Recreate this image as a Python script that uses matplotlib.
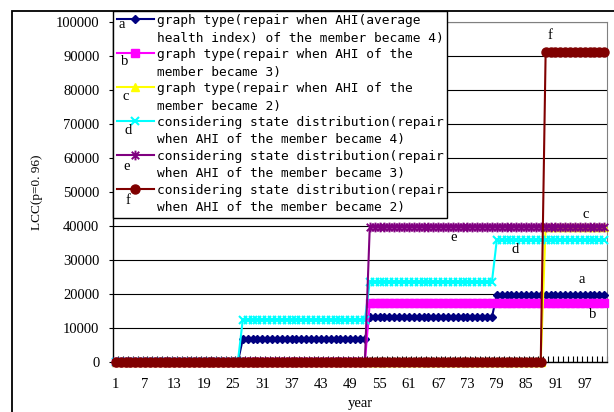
import numpy as np
import matplotlib
matplotlib.use("Agg")
import matplotlib.pyplot as plt
from matplotlib.lines import Line2D
from matplotlib.legend_handler import HandlerLine2D
from matplotlib.patches import Rectangle
from matplotlib.path import Path
from matplotlib.ticker import FixedLocator, StrMethodFormatter

W, H = 614, 412

# ── Data (step plateaus) ────────────────────────────────────────────────────
years = np.arange(1, 102)

a_levels, a_runs = [0, 6600, 13100, 19700], [26, 26, 26, 23]
b_levels, b_runs = [0, 17200], [52, 49]
c_levels, c_runs = [0, 39700], [88, 13]
d_levels, d_runs = [0, 12300, 23500, 35800], [26, 26, 26, 23]
e_levels, e_runs = [0, 39700], [52, 49]
f_levels, f_runs = [0, 91200], [88, 13]

labels = [
    "graph type(repair when AHI(average\nhealth index) of the member became 4)",
    "graph type(repair when AHI of the\nmember became 3)",
    "graph type(repair when AHI of the\nmember became 2)",
    "considering state distribution(repair\nwhen AHI of the member became 4)",
    "considering state distribution(repair\nwhen AHI of the member became 3)",
    "considering state distribution(repair\nwhen AHI of the member became 2)",
]
letters = ["a", "b", "c", "d", "e", "f"]
x_ticks = list(range(1, 101, 6))
y_ticks = list(range(0, 100001, 10000))

# ── Styles ───────────────────────────────────────────────────────────────────
star = Path([(-1, -1), (1, 1), (-1, 1), (1, -1), (0, -1.3), (0, 1.3)],
            [Path.MOVETO, Path.LINETO, Path.MOVETO, Path.LINETO, Path.MOVETO, Path.LINETO])
styles = [
    dict(color="#000080", marker="D", ms=4.0),
    dict(color="#FF00FF", marker="s", ms=6.0),
    dict(color="#FFFF00", marker="^", ms=6.0),
    dict(color="#00FFFF", marker="x", ms=6.0, mew=1.5),
    dict(color="#800080", marker=star, ms=7.0, mew=1.4),
    dict(color="#800000", marker="o", ms=6.5),
]
SERIF = "Liberation Serif"
MONO = "DejaVu Sans Mono"

fig = plt.figure(figsize=(W / 100, H / 100), dpi=100, facecolor="white")
ax = fig.add_axes([113.3 / W, 1 - 361.7 / H, (606.7 - 113.3) / W, (361.7 - 22.3) / H])

series = [(a_levels, a_runs), (b_levels, b_runs), (c_levels, c_runs),
          (d_levels, d_runs), (e_levels, e_runs), (f_levels, f_runs)]
handles = []
for (lev, run), st, lab in zip(series, styles, labels):
    vals = np.repeat(lev, run)
    (ln,) = ax.plot(years, vals, lw=1.5, label=lab, clip_on=False, zorder=3, **st)
    handles.append(ln)

ax.set_xlim(0.5, 101.5)
ax.set_ylim(0, 100000)
ax.yaxis.set_major_locator(FixedLocator(y_ticks))
ax.yaxis.set_major_formatter(StrMethodFormatter("{x:.0f}"))
ax.xaxis.set_major_locator(FixedLocator(x_ticks))
ax.xaxis.set_minor_locator(FixedLocator(np.arange(0.5, 102, 1)))
ax.grid(axis="y", color="black", lw=0.8, zorder=1)
ax.set_axisbelow(True)

ax.tick_params(axis="x", which="major", length=0, pad=12, labelsize=10.5)
ax.tick_params(axis="x", which="minor", direction="in", length=4.5, width=0.8, color="black")
ax.tick_params(axis="y", length=3, width=0.8, pad=7, labelsize=10.5)
for t in ax.get_xticklabels() + ax.get_yticklabels():
    t.set_fontfamily(SERIF)

for s in ["top", "right"]:
    ax.spines[s].set_color("#808080")
for s in ["left", "bottom"]:
    ax.spines[s].set_color("black")
    ax.spines[s].set_linewidth(1.0)

ax.set_xlabel("year", fontfamily=SERIF, fontsize=10.5, labelpad=4)
ax.set_ylabel("LCC(p=0. 96)", fontfamily=SERIF, fontsize=9.5, labelpad=9)


# legend handle sits on the first line of each two-line label
class TopLine(HandlerLine2D):
    def create_artists(self, legend, orig_handle, xdescent, ydescent, width, height, fontsize, trans):
        arts = super().create_artists(legend, orig_handle, xdescent, ydescent, width, height, fontsize, trans)
        for art in arts:
            art.set_ydata(np.asarray(art.get_ydata()) + 0.85 * fontsize)
        return arts


leg = ax.legend(
    handles=handles,
    loc="upper left",
    bbox_to_anchor=(112.7 / W, 1 - 10.5 / H),
    bbox_transform=fig.transFigure,
    borderaxespad=0,
    borderpad=0.3,
    labelspacing=0.28,
    handlelength=2.9,
    handletextpad=0.2,
    fancybox=False,
    framealpha=1,
    edgecolor="black",
    prop={"family": MONO, "size": 9.3},
    handler_map={Line2D: TopLine(numpoints=1)},
)
for t in leg.get_texts():
    t.set_linespacing(1.43)
leg.get_frame().set_linewidth(1.0)
leg.set_zorder(5)

# letter tags inside the legend
for ch, (px, py) in zip(letters, [(122, 25), (125, 61.7), (126, 96.3), (128, 130), (127, 166), (128, 200)]):
    fig.text(px / W, 1 - py / H, ch, fontfamily=SERIF, fontsize=10.5, ha="center", va="center", zorder=6)

# letter tags next to the curves
tag_x = [96.4, 98.6, 97.1, 82.7, 70.2, 89.9]
tag_y = [24300, 14000, 43500, 33100, 36600, 96200]
for ch, tx, ty in zip(letters, tag_x, tag_y):
    ax.text(tx, ty, ch, fontfamily=SERIF, fontsize=10.5, ha="center", va="center", zorder=4)

# chart frame (cut off at right and bottom in the reference)
fig.add_artist(Rectangle((12 / W, -0.05), 1.2, 1 - 10.5 / H + 0.05, transform=fig.transFigure,
                         fill=False, ec="black", lw=1.3))

fig.savefig("out.png", dpi=100, facecolor="white")
